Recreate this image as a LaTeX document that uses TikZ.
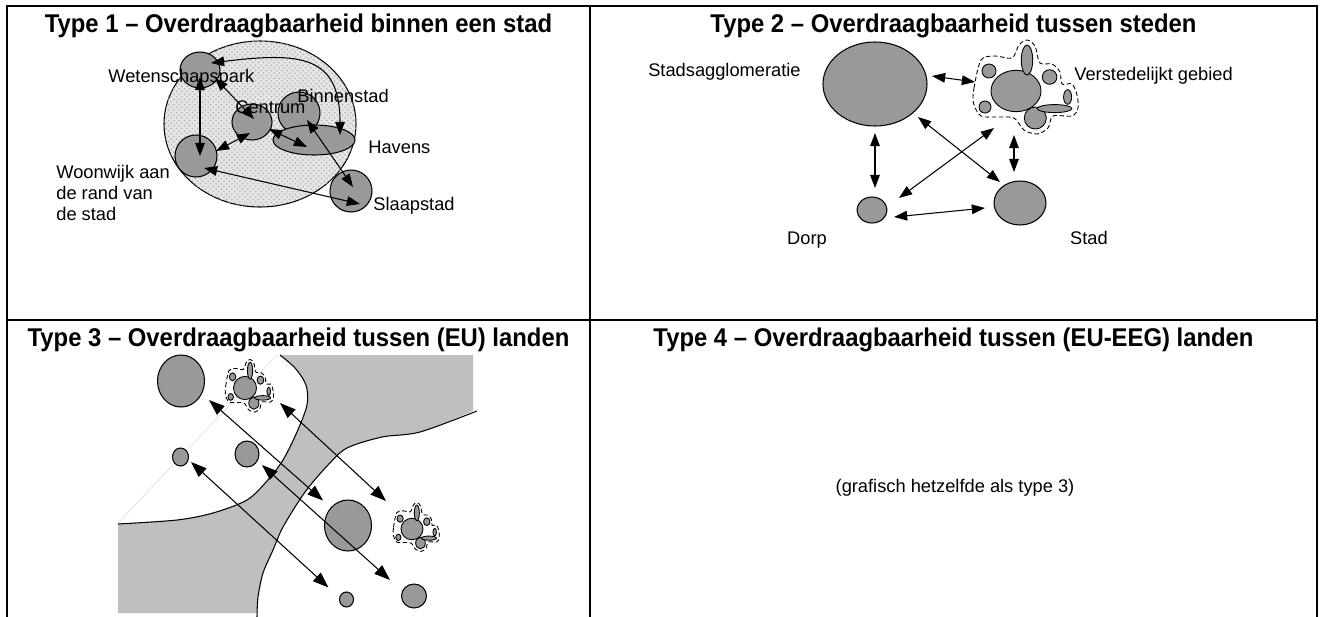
\documentclass[tikz,border=0pt]{standalone}
\usepackage{fontspec}
\setmainfont{Liberation Sans}
\newfontfamily\titlefont[FakeStretch=0.93]{Liberation Sans}
\usetikzlibrary{shapes.geometric,arrows.meta,patterns}

\newlength\pxu
\setlength\pxu{0.02cm}

\tikzset{
  frame/.style={line width=1.2pt},
  title/.style={anchor=base, inner sep=0pt, font=\titlefont\bfseries\fontsize{14.6}{17}\selectfont},
  lbl/.style={inner sep=0pt, font=\fontsize{10.4}{11.9}\selectfont},
  blob/.style 2 args={ellipse, draw, fill=black!40, line width=0.6pt, inner sep=0pt,
    minimum width=#1\pxu, minimum height=#2\pxu},
  link/.style={<->, line width=0.6pt, >={Triangle[length=7.5pt,width=5.5pt]}},
  longlink/.style={<->, line width=0.6pt, >={Triangle[length=9pt,width=6.5pt]}},
  land/.style={fill=black!25},
  part/.style={draw, fill=black!40, line width=0.5pt},
  verst/.pic={
    \draw[line width=0.5pt, dash pattern=on 2.5pt off 1.5pt] plot[smooth cycle] coordinates {
      (-42.5,12) (-42,-3) (-35,-31) (-21,-35) (-4,-33) (3,-46) (11,-51) (19,-45)
      (24,-28) (36,-27) (44,-19) (46,-7) (56,-7) (61,4) (62,17) (56,25) (37,25)
      (32,37) (21,43) (8,39) (-2,27) (-18,26) (-35,25)};
    \path[part] (-27,-20) circle[radius=7];
    \path[part] (0,0) ellipse[x radius=25, y radius=20.7];
    \path[part] (11,-31) ellipse[x radius=5.7, y radius=15];
    \path[part] (33.6,-14) circle[radius=7.3];
    \path[part] (51.6,6) ellipse[x radius=4, y radius=7.3];
    \path[part] (19.3,27) circle[radius=11];
    \path[part] (38.6,17.6) ellipse[x radius=17.3, y radius=4];
    \path[part] (-31,16) circle[radius=6];
  }
}

\begin{document}
\begin{tikzpicture}[x=0.02cm, y=-0.02cm]
\useasboundingbox (0,0) rectangle (1323,616);

% table
\draw[frame] (7,6) rectangle (1317,640);
\draw[frame] (7,320) -- (1317,320);
\draw[frame] (590,6) -- (590,640);

\node[title] (t1) at (298.5,32) {Type 1 – Overdraagbaarheid binnen een stad};
\node[title] (t2) at (953.5,32) {Type 2 – Overdraagbaarheid tussen steden};
\node[title] (t3) at (298.5,346) {Type 3 – Overdraagbaarheid tussen (EU) landen};
\node[title] (t4) at (953.5,346) {Type 4 – Overdraagbaarheid tussen (EU-EEG) landen};

% type 1
\node[blob={192}{166}, fill=black!10, postaction={pattern=crosshatch dots, pattern color=black!30}] (city) at (260,124) {};
\node[blob={40}{36}] (park) at (200,70) {};
\node[blob={42}{42}] (woon) at (196,156) {};
\node[blob={40}{36}] (cen) at (252,122) {};
\node[blob={42}{42}] (binnen) at (299,113) {};
\node[blob={82}{30}] (havens) at (314,140) {};
\node[blob={42}{42}] (slaap) at (351,191) {};

\node[lbl, anchor=base west] (tpark) at (108,82) {Wetenschapspark};
\node[lbl, anchor=base west] (tcen) at (235,113) {Centrum};
\node[lbl, anchor=base west] (tbinnen) at (297,102) {Binnenstad};
\node[lbl, anchor=base west] (thavens) at (368,153) {Havens};
\node[lbl, anchor=base west] (tslaap) at (373,210) {Slaapstad};
\node[lbl, anchor=north west, align=left] (twoon) at (56,165) {Woonwijk aan\\de rand van\\de stad};

\draw[link] ([shift={(0,7)}]park.center) -- ([shift={(4,0)}]woon.center);
\draw[link] ([shift={(15,8)}]park.center) -- ([shift={(2,-3)}]cen.center);
\draw[link] ([shift={(11,-7)}]park.center) .. controls (300,52) and (340,55) .. ([shift={(26,-5)}]havens.center);
\draw[link] ([shift={(-2,11)}]cen.center) -- ([shift={(20,-5)}]woon.center);
\draw[link] ([shift={(17,7)}]cen.center) -- ([shift={(-7,7)}]havens.center);
\draw[link] ([shift={(8,7)}]binnen.center) -- ([shift={(2,-4)}]slaap.center);
\draw[link] ([shift={(8,12)}]woon.center) -- ([shift={(9,13)}]slaap.center);

% type 2
\node[blob={104}{84}] (agglo) at (875,84) {};
\node[blob={30}{26}] (dorp) at (872,210) {};
\node[blob={52}{44}] (stad) at (1020,203) {};
\coordinate (vg) at (1016,91);
\pic at (vg) {verst};

\node[lbl, anchor=base east] (tagglo) at (801,76) {Stadsagglomeratie};
\node[lbl, anchor=base west] (tvg) at (1074,80) {Verstedelijkt gebied};
\node[lbl, anchor=base] (tdorp) at (807,244) {Dorp};
\node[lbl, anchor=base] (tstad) at (1089,244) {Stad};

\draw[link] ([shift={(57,-8)}]agglo.center) -- ([shift={(-41,-9)}]vg);
\draw[link] ([shift={(0,49)}]agglo.center) -- ([shift={(3,-22)}]dorp.center);
\draw[link] ([shift={(43,33)}]agglo.center) -- ([shift={(-20,-21)}]stad.center);
\draw[link] ([shift={(-22,37)}]vg) -- ([shift={(27,-12)}]dorp.center);
\draw[link] ([shift={(-2,44)}]vg) -- ([shift={(-6,-31)}]stad.center);
\draw[link] ([shift={(22,7)}]dorp.center) -- ([shift={(-35,5)}]stad.center);

% type 3
\fill[land] (118,613) -- plot[smooth] coordinates {(118,524) (177,520) (213,513) (247,500)
  (267,481) (283,460) (297,432) (307,405) (306,385) (295,368) (280,355)}
  -- (473,355) -- plot[smooth] coordinates {(473,411) (420,432) (382,437) (347,448)
  (328,465) (305,492) (283,527) (273,550) (263,573) (258,597) (257,613)} -- cycle;
\draw[line width=0.6pt] plot[smooth] coordinates {(118,524) (177,520) (213,513) (247,500)
  (267,481) (283,460) (297,432) (307,405) (306,385) (295,368) (280,355)};
\draw[line width=0.6pt] plot[smooth] coordinates {(477,411) (420,432) (382,437) (347,448)
  (328,465) (305,492) (283,527) (273,550) (263,573) (258,597) (257,617)};
\draw[black!15, line width=0.3pt] (118,523) -- (277,355);

\node[blob={47}{52}] (bigA) at (181,381) {};
\node[blob={16}{18}] (smallA) at (180.5,457) {};
\node[blob={24}{26}] (medA) at (247,454) {};
\node[blob={47}{51}] (bigB) at (348,525.5) {};
\node[blob={14}{15}] (smallB) at (346.5,599.5) {};
\node[blob={25}{24}] (medB) at (414,596) {};
\coordinate (clA) at (245,388);
\coordinate (clB) at (412,529);
\pic[xscale=0.46, yscale=0.56] at (clA) {verst};
\pic[xscale=0.44, yscale=0.52] at (clB) {verst};

\draw[longlink] ([shift={(28,19)}]bigA.center) -- ([shift={(-25,-25)}]bigB.center);
\draw[longlink] ([shift={(35,15)}]clA) -- ([shift={(-26,-28)}]clB);
\draw[longlink] ([shift={(15,11)}]medA.center) -- ([shift={(-24,-16)}]medB.center);
\draw[longlink] ([shift={(10.5,5)}]smallA.center) -- ([shift={(-18,-12)}]smallB.center);

% type 4
\node[lbl] (t4note) at (955,488) {(grafisch hetzelfde als type 3)};
\end{tikzpicture}
\end{document}
